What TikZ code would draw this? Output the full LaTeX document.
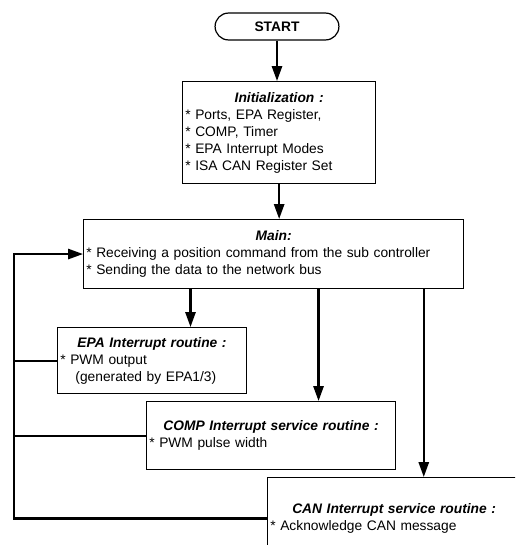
\documentclass[tikz,border=0pt]{standalone}
\usepackage{fontspec}
\setmainfont{Liberation Sans}
\usetikzlibrary{arrows.meta}

\newcommand{\boxtitle}[1]{{\centering\bfseries\itshape #1\par}}

\begin{document}
\begin{tikzpicture}[x=0.026cm, y=-0.026cm,
	every node/.style={font=\fontsize{10.2}{12.6}\selectfont},
	stage/.style={draw, line width=0.9pt, anchor=north west, align=left, inner xsep=2pt, inner ysep=2pt},
	flow/.style={line width=1.6pt, -{Triangle[length=11pt,width=7.5pt]}},
	link/.style={line width=1.6pt}]
	\useasboundingbox (0,0) rectangle (515,545);
	\clip (0,0) rectangle (515,545);
	\node[draw, line width=0.9pt, rounded corners=0.35cm, minimum width=3.22cm, minimum height=0.70cm, font=\fontsize{10.2}{12.6}\selectfont\bfseries] (start) at (277,26.5) {START};
	\node[stage, text width=4.88cm, minimum height=2.65cm] (init) at (182,81) {\boxtitle{Initialization :}* Ports, EPA Register,\\{}* COMP, Timer\\{}* EPA Interrupt Modes\\{}* ISA CAN Register Set};
	\node[stage, text width=9.74cm, minimum height=1.79cm] (main) at (83,219) {\boxtitle{Main:}* Receiving a position command from the sub controller\\{}* Sending the data to the network bus};
	\node[stage, text width=4.77cm, minimum height=1.72cm] (epa) at (57,327) {\boxtitle{EPA Interrupt routine :}* PWM output\\\hspace*{1.1em}(generated by EPA1/3)};
	\node[stage, text width=6.33cm, minimum height=1.77cm] (comp) at (146,401) {\boxtitle{COMP Interrupt service routine :}* PWM pulse width};
	\node[stage, text width=6.44cm, minimum height=2.13cm] (can) at (267,477) {\boxtitle{CAN Interrupt service routine :}* Acknowledge CAN message};
	\coordinate (ret) at (14,0);
	\draw[flow] (start.south) -- (start.south |- init.north);
	\draw[flow] (init.south) -- (init.south |- main.north);
	\draw[flow] ([xshift=1cm]epa.north |- main.south) -- ([xshift=1cm]epa.north);
	\draw[flow] ([xshift=1.235cm]comp.north |- main.south) -- ([xshift=1.235cm]comp.north);
	\draw[flow] ([xshift=0.77cm]can.north |- main.south) -- ([xshift=0.77cm]can.north);
	% return path to the main loop
	\draw[flow] (can.west) -- (can.west -| ret) |- (main.west);
	\draw[link] (epa.west) -- (epa.west -| ret);
	\draw[link] (comp.west) -- (comp.west -| ret);
\end{tikzpicture}
\end{document}
